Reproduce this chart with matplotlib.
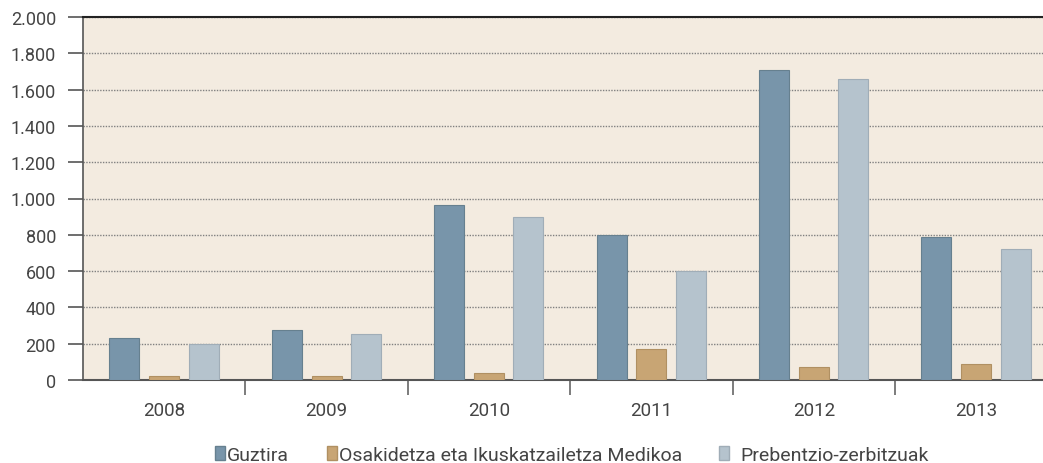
import matplotlib
matplotlib.use("Agg")
import matplotlib.pyplot as plt
import numpy as np
from matplotlib.ticker import FuncFormatter, MultipleLocator, FixedLocator
from matplotlib.patches import Patch

years = ["2008", "2009", "2010", "2011", "2012", "2013"]
series_names = ["Guztira", "Osakidetza eta Ikuskatzailetza Medikoa", "Prebentzio-zerbitzuak"]
guztira = [230, 274, 963, 800, 1710, 790]
osakidetza = [20, 20, 40, 169, 72, 86]
prebentzio = [197, 252, 900, 600, 1660, 720]
colors = ["#7895aa", "#c8a574", "#b5c3cd"]
edge_dark = ["#66808f", "#b09062", "#a0adb7"]

plt.rcParams['font.family'] = ['Roboto', 'DejaVu Sans']
TXT = "#444444"

fig = plt.figure(figsize=(10.43, 4.64), dpi=100)
ax = fig.add_axes([83/1043, (464-381)/464, 1 - 83/1043, (381-18)/464])
ax.set_facecolor("#f3ebe0")

x = np.arange(len(years))
w = 0.185
offs = [-0.245, 0.0, 0.243]
for vals, off, c, ec in zip([guztira, osakidetza, prebentzio], offs, colors, edge_dark):
    ax.bar(x + off, vals, width=w, color=c, edgecolor=ec, linewidth=0.8, zorder=3)

ax.set_xlim(-0.5, -0.5 + 960/162.4)
ax.set_ylim(0, 2000)

ax.yaxis.set_major_locator(MultipleLocator(200))
ax.yaxis.set_major_formatter(FuncFormatter(lambda v, p: f"{int(v):,}".replace(",", ".")))
ax.grid(axis='y', linestyle=(0, (1, 1)), color="#808080", linewidth=1.0, zorder=1)

ax.set_xticks(x)
ax.set_xticklabels(years)
ax.xaxis.set_minor_locator(FixedLocator(np.arange(0.5, 5.5, 1.0)))
ax.tick_params(axis='x', which='major', length=0, pad=15, labelsize=13.5, labelcolor=TXT)
ax.tick_params(axis='x', which='minor', length=11, width=1.2, color="#666666", direction='out')
ax.tick_params(axis='y', which='major', length=11, width=1.2, color="#555555", direction='out',
               labelsize=13, labelcolor=TXT, pad=8.5)

ax.spines['right'].set_visible(False)
ax.spines['top'].set_color("#222222")
ax.spines['top'].set_linewidth(1.5)
ax.spines['left'].set_color("#555555")
ax.spines['left'].set_linewidth(1.2)
ax.spines['bottom'].set_color("#555555")
ax.spines['bottom'].set_linewidth(1.5)

leg_x = [215, 327, 719]
leg_pad = [0.1, 0.1, 0.6]
for c, ec, n, lx, tp in zip(colors, edge_dark, series_names, leg_x, leg_pad):
    fig.legend(handles=[Patch(facecolor=c, edgecolor=ec, label=n)], loc='center left',
               bbox_to_anchor=(lx/1043, 1 - 456/464), frameon=False,
               fontsize=14, handlelength=0.52, handleheight=0.72, handletextpad=tp,
               labelcolor=TXT, borderaxespad=0, borderpad=0)

fig.savefig("out.png", dpi=100)
